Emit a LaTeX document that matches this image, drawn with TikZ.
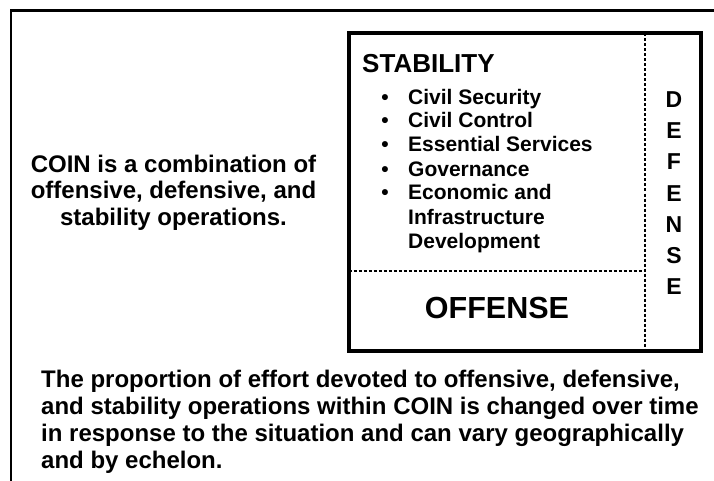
\documentclass[tikz,border=0pt]{standalone}
\usepackage{fontspec}
\setmainfont{Liberation Sans}
\tikzset{
  outerframe/.style={line width=2.3pt},
  mainbox/.style={line width=4pt},
  divider/.style={line width=1.8pt, dash pattern=on 3pt off 2pt},
  lbl/.style={inner sep=0pt, font=\bfseries\fontsize{24}{26}\selectfont},
  headlbl/.style={inner sep=0pt, anchor=base west, font=\bfseries\fontsize{26}{28}\selectfont},
  itemlbl/.style={inner sep=0pt, anchor=base west, font=\bfseries\fontsize{21}{24}\selectfont},
  bul/.style={inner sep=0pt, anchor=base, font=\bfseries\fontsize{21}{24}\selectfont},
  letterlbl/.style={inner sep=0pt, anchor=base, font=\bfseries\fontsize{23}{25}\selectfont},
  offlbl/.style={inner sep=0pt, anchor=base, font=\bfseries\fontsize{30.5}{32}\selectfont},
}
\begin{document}
\begin{tikzpicture}[x=1pt,y=-1pt]
\useasboundingbox (0,0) rectangle (714,481);
% outer partial frame
\coordinate (fbl) at (11.2,482);
\coordinate (ftl) at (11.2,10.5);
\coordinate (ftr) at (715,10.5);
\draw[outerframe] (fbl) -- (ftl) -- (ftr);
% main box
\coordinate (btl) at (348.5,33.5);
\coordinate (bbr) at (701,350.5);
\coordinate (vtop) at (645,33.5);
\coordinate (vbot) at (645,350.5);
\coordinate (hl) at (348.5,270.7);
\coordinate (hr) at (645,270.7);
\draw[divider] (vtop) -- (vbot);
\draw[divider] (hl) -- (hr);
\draw[mainbox] (btl) rectangle (bbr);
% stability
\node[headlbl] (stab) at (362,73) {STABILITY};
\node[bul] (b1) at (385,105) {\textbullet};
\node[bul] (b2) at (385,128) {\textbullet};
\node[bul] (b3) at (385,152) {\textbullet};
\node[bul] (b4) at (385,176) {\textbullet};
\node[bul] (b5) at (385,200) {\textbullet};
\node[itemlbl] (i1) at (408,105) {Civil Security};
\node[itemlbl] (i2) at (408,128) {Civil Control};
\node[itemlbl] (i3) at (408,152) {Essential Services};
\node[itemlbl] (i4) at (408,176) {Governance};
\node[itemlbl] (i5) at (408,200) {Economic and};
\node[itemlbl] (i6) at (408,224) {Infrastructure};
\node[itemlbl] (i7) at (408,248) {Development};
% defense
\node[letterlbl] (d1) at (674,108) {D};
\node[letterlbl] (d2) at (674,139) {E};
\node[letterlbl] (d3) at (674,170) {F};
\node[letterlbl] (d4) at (674,201) {E};
\node[letterlbl] (d5) at (674,232) {N};
\node[letterlbl] (d6) at (674,263) {S};
\node[letterlbl] (d7) at (674,294) {E};
% offense
\node[offlbl] (off) at (497,318) {OFFENSE};
% left text
\node[lbl, anchor=base] (c1) at (173.5,172) {COIN is a combination of};
\node[lbl, anchor=base] (c2) at (173.5,198) {offensive, defensive, and};
\node[lbl, anchor=base] (c3) at (173.5,225) {stability operations.};
% bottom text
\node[lbl, anchor=base west] (p1) at (41,387) {The proportion of effort devoted to offensive, defensive,};
\node[lbl, anchor=base west] (p2) at (41,414) {and stability operations within COIN is changed over time};
\node[lbl, anchor=base west] (p3) at (41,441) {in response to the situation and can vary geographically};
\node[lbl, anchor=base west] (p4) at (41,468) {and by echelon.};
\end{tikzpicture}
\end{document}
